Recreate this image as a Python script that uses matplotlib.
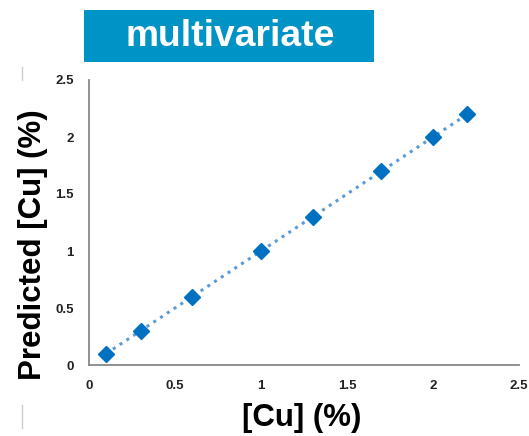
import matplotlib.pyplot as plt
from matplotlib.patches import Rectangle
from matplotlib.lines import Line2D

# Data
actual_cu = [0.1, 0.3, 0.6, 1.0, 1.3, 1.7, 2.0, 2.2]
predicted_cu = [0.1, 0.3, 0.6, 1.0, 1.3, 1.7, 2.0, 2.2]
ticks = [0, 0.5, 1, 1.5, 2, 2.5]
tick_labels = ['0', '0.5', '1', '1.5', '2', '2.5']

W, H = 529, 436
fig = plt.figure(figsize=(W / 100, H / 100), dpi=100)
plt.rcParams['font.family'] = ['Liberation Sans', 'DejaVu Sans']

ax = fig.add_axes([89 / W, 1 - 365 / H, 430 / W, 285 / H])
ax.plot(actual_cu, predicted_cu, linestyle=':', color='#5B9BD5', linewidth=2.2, zorder=2)
ax.plot(actual_cu, predicted_cu, linestyle='none', marker='D', markersize=8,
        color='#0070C0', zorder=3)

ax.set_xlim(0, 2.5)
ax.set_ylim(0, 2.5)
ax.set_xticks(ticks)
ax.set_xticklabels(tick_labels)
ax.set_yticks(ticks)
ax.set_yticklabels(tick_labels)
ax.tick_params(length=0, labelsize=9.5, pad=11)
for lbl in ax.get_xticklabels() + ax.get_yticklabels():
    lbl.set_fontweight('bold')
    lbl.set_color('#222222')

for side in ['top', 'right']:
    ax.spines[side].set_visible(False)
for side in ['left', 'bottom']:
    ax.spines[side].set_color('#888888')
    ax.spines[side].set_linewidth(1.3)

ax.set_xlabel('[Cu] (%)', fontsize=22.5, fontweight='bold')
ax.xaxis.set_label_coords((302 - 89) / 430, -(418 - 365) / 285)
ax.set_ylabel('Predicted [Cu] (%)', fontsize=22.5, fontweight='bold')
ax.yaxis.set_label_coords(-(89 - 33) / 430, (365 - 245) / 285)
ax.xaxis.label.set_va('center')
ax.yaxis.label.set_va('center')

# Title banner
fig.add_artist(Rectangle((84 / W, 1 - 62 / H), 290 / W, 52 / H,
                         transform=fig.transFigure, facecolor='#0093C6',
                         edgecolor='none'))
fig.text(230 / W, 1 - 37 / H, 'multivariate', color='white', fontsize=26.8,
         fontweight='bold', ha='center', va='center')

# faint slide marks on the left edge
fig.add_artist(Line2D([22 / W, 22 / W], [1 - 67 / H, 1 - 80 / H],
                      transform=fig.transFigure, color='#cccccc', linewidth=1))
fig.add_artist(Line2D([22 / W, 22 / W], [1 - 405 / H, 1 - 428 / H],
                      transform=fig.transFigure, color='#cccccc', linewidth=1))

fig.savefig('out.png', dpi=100)
